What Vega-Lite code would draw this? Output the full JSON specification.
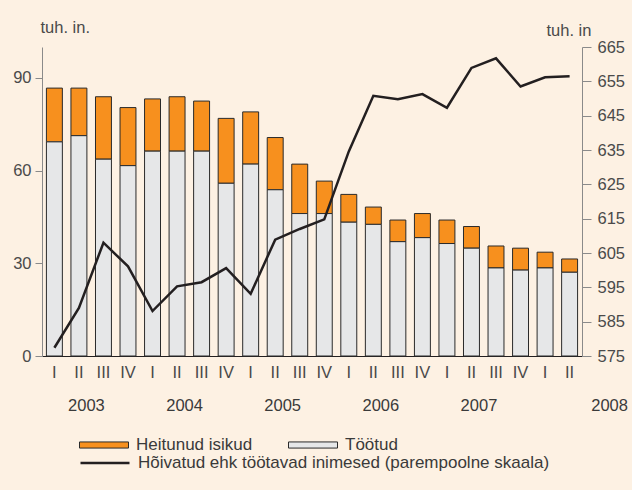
{
  "$schema": "https://vega.github.io/schema/vega-lite/v6.json",
  "autosize": "none",
  "width": 540,
  "height": 309,
  "padding": {"left": 42, "top": 47, "right": 50, "bottom": 134},
  "background": "#fdf1e3",
  "config": {
    "view": {"stroke": null},
    "font": "Liberation Sans",
    "axis": {"labelFont": "Liberation Sans", "labelFontSize": 16.5, "labelColor": "#4a4a4a", "titleFont": "Liberation Sans", "titleFontSize": 16.5, "titleFontWeight": "normal", "titleColor": "#4a4a4a", "grid": false},
    "legend": {"labelFont": "Liberation Sans", "labelFontSize": 17, "labelColor": "#3a3a3a", "labelLimit": 0}
  },
  "datasets": {
    "quarters": [
      {"q": "2003-I", "toot": 69.3, "heit": 17.4, "hoiv": 577.4},
      {"q": "2003-II", "toot": 71.3, "heit": 15.4, "hoiv": 589.0},
      {"q": "2003-III", "toot": 63.7, "heit": 20.2, "hoiv": 608.0},
      {"q": "2003-IV", "toot": 61.6, "heit": 18.8, "hoiv": 601.1},
      {"q": "2004-I", "toot": 66.3, "heit": 16.9, "hoiv": 588.1},
      {"q": "2004-II", "toot": 66.3, "heit": 17.6, "hoiv": 595.3},
      {"q": "2004-III", "toot": 66.3, "heit": 16.2, "hoiv": 596.5},
      {"q": "2004-IV", "toot": 55.9, "heit": 21.0, "hoiv": 600.6},
      {"q": "2005-I", "toot": 62.1, "heit": 16.9, "hoiv": 593.1},
      {"q": "2005-II", "toot": 53.8, "heit": 16.9, "hoiv": 608.9},
      {"q": "2005-III", "toot": 46.1, "heit": 16.0, "hoiv": 612.0},
      {"q": "2005-IV", "toot": 46.1, "heit": 10.5, "hoiv": 614.8},
      {"q": "2006-I", "toot": 43.3, "heit": 9.0, "hoiv": 634.6},
      {"q": "2006-II", "toot": 42.6, "heit": 5.6, "hoiv": 650.8},
      {"q": "2006-III", "toot": 37.0, "heit": 7.0, "hoiv": 649.8},
      {"q": "2006-IV", "toot": 38.3, "heit": 7.8, "hoiv": 651.3},
      {"q": "2007-I", "toot": 36.4, "heit": 7.6, "hoiv": 647.3},
      {"q": "2007-II", "toot": 34.9, "heit": 7.0, "hoiv": 658.9},
      {"q": "2007-III", "toot": 28.5, "heit": 7.1, "hoiv": 661.7},
      {"q": "2007-IV", "toot": 27.8, "heit": 7.1, "hoiv": 653.5},
      {"q": "2008-I", "toot": 28.5, "heit": 5.1, "hoiv": 656.2},
      {"q": "2008-II", "toot": 27.1, "heit": 4.3, "hoiv": 656.5}
    ],
    "years": [
      {"q": "2003-II", "year": "2003"},
      {"q": "2004-II", "year": "2004"},
      {"q": "2005-II", "year": "2005"},
      {"q": "2006-II", "year": "2006"},
      {"q": "2007-II", "year": "2007"}
    ],
    "lastyear": [
      {"q": "2008-II", "year": "2008"}
    ]
  },
  "encoding": {
    "x": {
      "field": "q", "type": "nominal", "sort": null,
      "scale": {"paddingInner": 0.35, "paddingOuter": 0.18},
      "axis": {"title": null, "labelAngle": 0, "ticks": false, "labelPadding": 8, "domainColor": "#231f20", "domainWidth": 1, "labelExpr": "split(datum.label, '-')[1]"}
    }
  },
  "layer": [
    {
      "layer": [
        {
          "data": {"name": "quarters"},
          "transform": [{"fold": ["heit", "toot"], "as": ["kind", "value"]}],
          "mark": {"type": "bar", "stroke": "#2a2a2a", "strokeWidth": 1},
          "encoding": {
            "y": {
              "field": "value", "type": "quantitative", "stack": "zero",
              "scale": {"domain": [0, 100], "nice": false},
              "axis": {"values": [0, 30, 60, 90], "title": "tuh. in.", "titleAngle": 0, "titleAlign": "left", "titleBaseline": "alphabetic", "titleX": -2, "titleY": -15, "tickSize": 7, "tickColor": "#8a8a8a", "domainColor": "#8a8a8a", "labelPadding": 4}
            },
            "fill": {
              "field": "kind", "type": "nominal",
              "scale": {"domain": ["heit", "toot"], "range": ["#f7901e", "#e6e7e8"]},
              "legend": {"title": null, "orient": "none", "legendX": 37, "legendY": 373, "direction": "horizontal", "columns": 2, "padding": 0, "columnPadding": 33, "symbolType": "M-1,-0.125H1V0.125H-1Z", "symbolSize": 2401, "symbolStrokeColor": "#2a2a2a", "symbolStrokeWidth": 1, "symbolOpacity": 1, "labelOffset": 7, "labelExpr": "datum.value == 'heit' ? 'Heitunud isikud' : 'Töötud'"}
            },
            "order": {"field": "kind", "sort": "descending"}
          }
        },
        {
          "data": {"name": "years"},
          "mark": {"type": "text", "dx": 7.5, "fontSize": 16.5, "color": "#3a3a3a", "baseline": "middle"},
          "encoding": {
            "y": {"datum": -16.1, "type": "quantitative"},
            "text": {"field": "year"}
          }
        },
        {
          "data": {"name": "lastyear"},
          "mark": {"type": "text", "dx": 40, "fontSize": 16.5, "color": "#3a3a3a", "baseline": "middle"},
          "encoding": {
            "y": {"datum": -16.1, "type": "quantitative"},
            "text": {"field": "year"}
          }
        }
      ]
    },
    {
      "data": {"name": "quarters"},
      "mark": {"type": "line", "strokeWidth": 2.5, "strokeJoin": "miter"},
      "encoding": {
        "y": {
          "field": "hoiv", "type": "quantitative",
          "scale": {"domain": [575, 665], "nice": false, "zero": false},
          "axis": {"orient": "right", "values": [575, 585, 595, 605, 615, 625, 635, 645, 655, 665], "title": "tuh. in", "titleAngle": 0, "titleAlign": "left", "titleBaseline": "alphabetic", "titleX": -36, "titleY": -12, "tickSize": 9, "tickColor": "#8a8a8a", "domainColor": "#8a8a8a", "labelPadding": 6}
        },
        "stroke": {
          "datum": "Hõivatud ehk töötavad inimesed (parempoolne skaala)",
          "scale": {"range": ["#231f20"]},
          "legend": {"title": null, "orient": "none", "legendX": 37, "legendY": 390, "padding": 0, "symbolType": "stroke", "symbolSize": 2401, "symbolStrokeWidth": 2.5, "labelOffset": 7}
        }
      }
    }
  ],
  "resolve": {"scale": {"y": "independent", "fill": "independent", "stroke": "independent"}}
}
